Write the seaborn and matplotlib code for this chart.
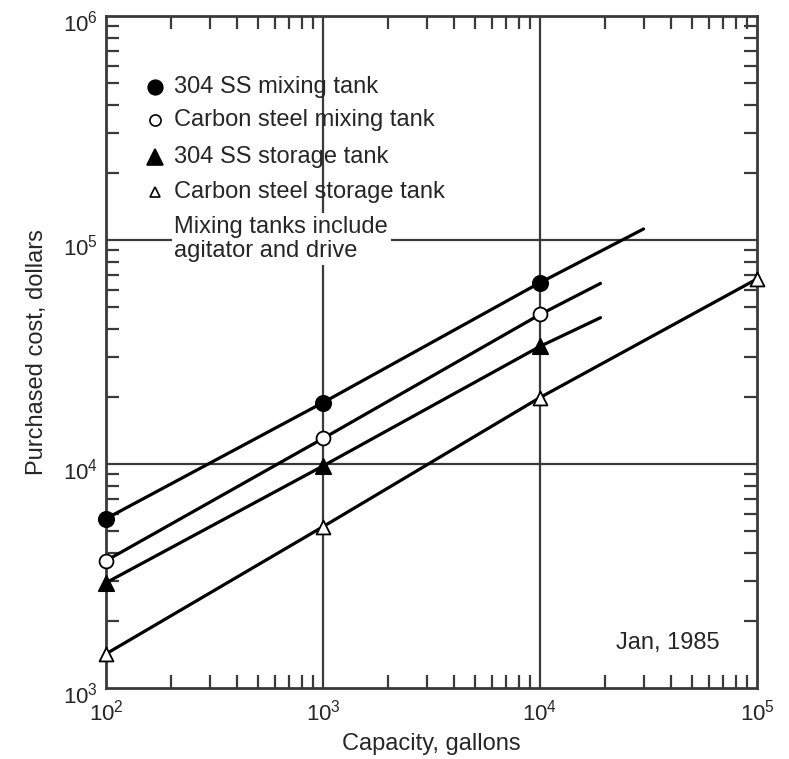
import numpy as np
import pandas as pd
import seaborn as sns
import matplotlib.pyplot as plt
from matplotlib.ticker import LogLocator, NullFormatter, FixedLocator, FixedFormatter
from matplotlib.transforms import ScaledTranslation

# data
capacity_pts = [1e2, 1e3, 1e4]

ss_mix_cost = [5700, 18800, 64500]
cs_mix_cost = [3700, 13000, 46500]
ss_store_cost = [2950, 9800, 33500]
cs_store_cost = [1420, 5250, 19800, 67000]
cs_store_cap = [1e2, 1e3, 1e4, 1e5]

# where each line ends
ss_mix_end = (30000, 112000)
cs_mix_end = (19000, 64000)
ss_store_end = (19000, 45000)

x_ticks = [1e2, 1e3, 1e4, 1e5]
x_labels = ["$10^{2}$", "$10^{3}$", "$10^{4}$", "$10^{5}$"]
y_ticks = [1e3, 1e4, 1e5, 1e6]
y_labels = ["$10^{3}$", "$10^{4}$", "$10^{5}$", "$10^{6}$"]

sns.set_style("white")
plt.rcParams["font.family"] = ["Liberation Sans", "DejaVu Sans"]
plt.rcParams["mathtext.default"] = "regular"

fig = plt.figure(figsize=(7.89, 7.59), dpi=100)
ax = fig.add_axes([106 / 789, 1 - 688 / 759, 651 / 789, 672 / 759])
ax.set_xscale("log")
ax.set_yscale("log")
ax.set_xlim(1e2, 1e5)
ax.set_ylim(1e3, 1e6)

series = [
    ("304 SS mixing tank", capacity_pts, ss_mix_cost, ss_mix_end, "o", "black", 11, 10.5),
    ("Carbon steel mixing tank", capacity_pts, cs_mix_cost, cs_mix_end, "o", "white", 10, 8),
    ("304 SS storage tank", capacity_pts, ss_store_cost, ss_store_end, "^", "black", 11, 12),
    ("Carbon steel storage tank", cs_store_cap, cs_store_cost, None, "^", "white", 10, 7.5),
]

for name, xs, ys, end, mk, fc, ms, lms in series:
    lx = list(xs)
    ly = list(ys)
    if end is not None:
        lx.append(end[0])
        ly.append(end[1])
    line_df = pd.DataFrame({"capacity": lx, "cost": ly})
    sns.lineplot(data=line_df, x="capacity", y="cost", ax=ax, color="black",
                 linewidth=2.3, estimator=None, sort=False, zorder=3)
    pt_df = pd.DataFrame({"capacity": xs, "cost": ys})
    sns.scatterplot(data=pt_df, x="capacity", y="cost", ax=ax, marker=mk,
                    color=fc, edgecolor="black", linewidth=1.3, s=ms ** 2,
                    zorder=4, clip_on=False)

# grid at decades
for v in [1e3, 1e4]:
    ax.axvline(v, color="#3a3a3a", linewidth=1.6, zorder=1)
for v in [1e4, 1e5]:
    ax.axhline(v, color="#3a3a3a", linewidth=1.6, zorder=1)

for sp in ax.spines.values():
    sp.set_color("#3a3a3a")
    sp.set_linewidth(2)

ax.xaxis.set_major_locator(FixedLocator(x_ticks))
ax.xaxis.set_major_formatter(FixedFormatter(x_labels))
ax.yaxis.set_major_locator(FixedLocator(y_ticks))
ax.yaxis.set_major_formatter(FixedFormatter(y_labels))
ax.xaxis.set_minor_locator(LogLocator(base=10, subs=np.arange(2, 10)))
ax.yaxis.set_minor_locator(LogLocator(base=10, subs=np.arange(2, 10)))
ax.xaxis.set_minor_formatter(NullFormatter())
ax.yaxis.set_minor_formatter(NullFormatter())
ax.tick_params(which="minor", direction="in", length=9.4, width=1.6,
               color="#3a3a3a", top=True, right=True, bottom=True, left=True)
ax.tick_params(axis="x", which="major", length=0, pad=8, labelsize=16)
ax.tick_params(axis="y", which="major", length=0, pad=6, labelsize=16)

ax.set_xlabel("Capacity, gallons", fontsize=17, labelpad=6)
ax.set_ylabel("Purchased cost, dollars", fontsize=17)
ax.yaxis.set_label_coords(-(106 - 48) / 651, 0.5)

# legend block
leg_rows = [0.894, 0.845, 0.790, 0.738]
for (name, xs, ys, end, mk, fc, ms, lms), yy in zip(series, leg_rows):
    ax.plot([0.075], [yy], transform=ax.transAxes, marker=mk, markersize=lms,
            markerfacecolor=fc, markeredgecolor="black", markeredgewidth=1.2,
            linestyle="none", zorder=6)
    ax.text(0.105, yy, name, transform=ax.transAxes, fontsize=17,
            va="center", ha="left", zorder=6)
ax.text(0.105, 0.668, "Mixing tanks include\nagitator and drive",
        transform=ax.transAxes, fontsize=17, va="center", ha="left",
        linespacing=1.15, zorder=6,
        bbox=dict(facecolor="white", edgecolor="none", pad=2))

ax.text(0.863, 0.067, "Jan, 1985", transform=ax.transAxes, fontsize=17,
        ha="center", va="center")

# y labels sit a little below their gridline in the original
fig.canvas.draw()
shift = ScaledTranslation(0, -0.05, fig.dpi_scale_trans)
for lab in ax.get_yticklabels():
    lab.set_transform(lab.get_transform() + shift)

fig.savefig("out.png", dpi=100)
